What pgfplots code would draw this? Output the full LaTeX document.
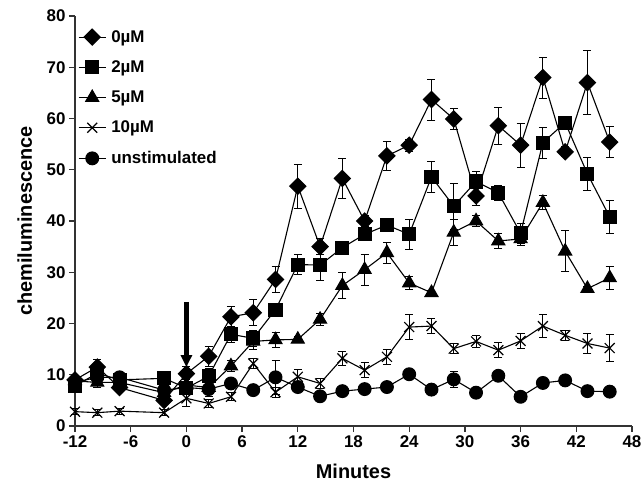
\documentclass[border=0pt]{standalone}
\usepackage{fontspec}
\setmainfont{Liberation Sans}
\usepackage{pgfplots}
\pgfplotsset{compat=1.18}
\usepackage{pgfplotstable}
\usetikzlibrary{arrows.meta}

% columns: minutes, mean, error
\pgfplotstableread{
x y e
-12 9.0 0.8
-9.6 11.5 1.5
-7.2 7.5 0.8
-2.4 5.0 0.8
0 10.2 1.5
2.4 13.6 2.0
4.8 21.3 2.0
7.2 22.1 2.5
9.6 28.6 2.5
12 46.8 4.3
14.4 35.0 1.5
16.8 48.3 3.9
19.2 40.0 1.0
21.6 52.7 2.8
24 54.8 1.2
26.4 63.7 4.0
28.8 59.9 2.0
31.2 44.9 1.8
33.6 58.6 3.6
36 54.8 4.3
38.4 68.0 4.0
40.8 53.5 1.0
43.2 67.0 6.2
45.6 55.4 3.0
}\zero
\pgfplotstableread{
x y e
-12 7.8 0.8
-9.6 10.3 1.0
-7.2 9.0 1.0
-2.4 9.3 1.0
0 7.4 1.0
2.4 9.7 1.5
4.8 17.9 1.5
7.2 17.1 1.5
9.6 22.7 1.0
12 31.5 2.0
14.4 31.4 3.0
16.8 34.8 0.8
19.2 37.4 1.0
21.6 39.2 1.0
24 37.4 3.0
26.4 48.6 3.0
28.8 42.9 4.5
31.2 47.7 2.0
33.6 45.5 1.5
36 37.6 2.0
38.4 55.3 3.0
40.8 59.2 1.0
43.2 49.2 3.2
45.6 40.8 3.3
}\two
\pgfplotstableread{
x y e
-12 8.8 0.8
-9.6 8.5 1.0
-7.2 8.5 0.8
-2.4 6.5 1.0
0 8.0 1.0
2.4 7.5 1.0
4.8 11.7 1.0
7.2 16.5 1.5
9.6 16.8 1.5
12 16.9 0.5
14.4 20.8 1.2
16.8 27.4 2.5
19.2 30.5 3.0
21.6 33.8 2.0
24 27.9 1.3
26.4 26.0 0.5
28.8 37.8 2.5
31.2 40.0 1.0
33.6 36.1 1.5
36 36.5 1.3
38.4 43.6 1.3
40.8 34.1 4.0
43.2 26.8 0.5
45.6 28.9 2.3
}\five
\pgfplotstableread{
x y e
-12 2.8 0.6
-9.6 2.6 0.6
-7.2 2.9 0.6
-2.4 2.6 0.6
0 5.4 1.5
2.4 4.4 0.8
4.8 5.7 0.8
7.2 12.2 1.0
9.6 6.6 1.0
12 9.6 1.5
14.4 8.3 1.0
16.8 13.2 1.3
19.2 10.9 1.5
21.6 13.5 1.5
24 19.3 2.5
26.4 19.5 1.5
28.8 15.1 1.0
31.2 16.5 1.2
33.6 14.8 1.5
36 16.6 1.5
38.4 19.5 2.3
40.8 17.7 1.0
43.2 16.1 2.0
45.6 15.2 2.7
}\ten
\pgfplotstableread{
x y e
-12 8.5 0.5
-9.6 9.5 0.8
-7.2 9.5 0.8
-2.4 7.0 0.8
0 7.5 0.8
2.4 7.2 1.5
4.8 8.3 0.8
7.2 7.0 0.5
9.6 9.5 3.3
12 7.6 0.5
14.4 5.8 0.5
16.8 6.8 0.5
19.2 7.2 0.5
21.6 7.6 0.5
24 10.1 0.5
26.4 7.1 0.5
28.8 9.1 1.5
31.2 6.5 0.5
33.6 9.8 0.5
36 5.7 0.5
38.4 8.4 0.5
40.8 8.9 0.5
43.2 6.8 0.5
45.6 6.7 0.5
}\unstim

\begin{document}
\begin{tikzpicture}
\useasboundingbox (-75bp,-64bp) rectangle (567bp,426bp);
\begin{axis}[
    at={(0,0)}, anchor=south west,
    scale only axis,
    width=557bp, height=410bp,
    xmin=-12, xmax=48, ymin=0, ymax=80,
    axis x line*=bottom, axis y line*=left,
    axis line style={line width=1.3bp, black!80},
    xtick={-12,-6,...,48}, ytick={0,10,...,80},
    tick align=outside, major tick length=6bp,
    tick style={line width=1.3bp, black!80},
    /pgf/number format/assume math mode=true,
    ticklabel style={font=\bfseries\fontsize{17}{17}\selectfont},
    xlabel={Minutes}, ylabel={chemiluminescence},
    label style={font=\bfseries\fontsize{20}{20}\selectfont},
    xlabel style={at={(axis description cs:0.5,-0.11)}, anchor=center},
    ylabel style={at={(axis description cs:-0.09,0.5)}, anchor=center},
    clip=false,
    error bars/error bar style={line width=0.9bp, black},
    error bars/error mark options={rotate=90, mark size=4bp, line width=0.9bp, black},
    legend cell align=left,
    legend style={draw=none, fill=none, at={(axis description cs:0.0,0.975)}, anchor=north west,
        font=\bfseries\fontsize{17}{17}\selectfont, row sep=13bp,
        nodes={inner xsep=5bp}},
    legend image code/.code={\draw[mark repeat=2,mark phase=2,#1] plot coordinates {(0bp,0bp) (13.5bp,0bp) (27bp,0bp)};},
]
\addplot[black, line width=1.1bp, mark=square*, mark size=5.7bp, mark options={rotate=45, fill=black, solid},
    error bars/.cd, y dir=both, y explicit] table[x=x, y=y, y error=e] {\zero};
\addlegendentry{0µM}
\addplot[black, line width=1.1bp, mark=square*, mark size=6.5bp, mark options={fill=black, solid},
    error bars/.cd, y dir=both, y explicit] table[x=x, y=y, y error=e] {\two};
\addlegendentry{2µM}
\addplot[black, line width=1.1bp, mark=triangle*, mark size=7.5bp, mark options={fill=black, solid},
    error bars/.cd, y dir=both, y explicit] table[x=x, y=y, y error=e] {\five};
\addlegendentry{5µM}
\addplot[black, line width=1.1bp, mark=x, mark size=7bp, mark options={solid, line width=1.2bp},
    error bars/.cd, y dir=both, y explicit] table[x=x, y=y, y error=e] {\ten};
\addlegendentry{10µM}
\addplot[black, line width=1.1bp, mark=*, mark size=6.4bp, mark options={fill=black, solid},
    error bars/.cd, y dir=both, y explicit] table[x=x, y=y, y error=e] {\unstim};
\addlegendentry{unstimulated}
\draw[line width=4.5bp, -{Triangle[width=11bp,length=12bp]}] (axis cs:0,24.2) -- (axis cs:0,11.5);
\end{axis}
\end{tikzpicture}
\end{document}
